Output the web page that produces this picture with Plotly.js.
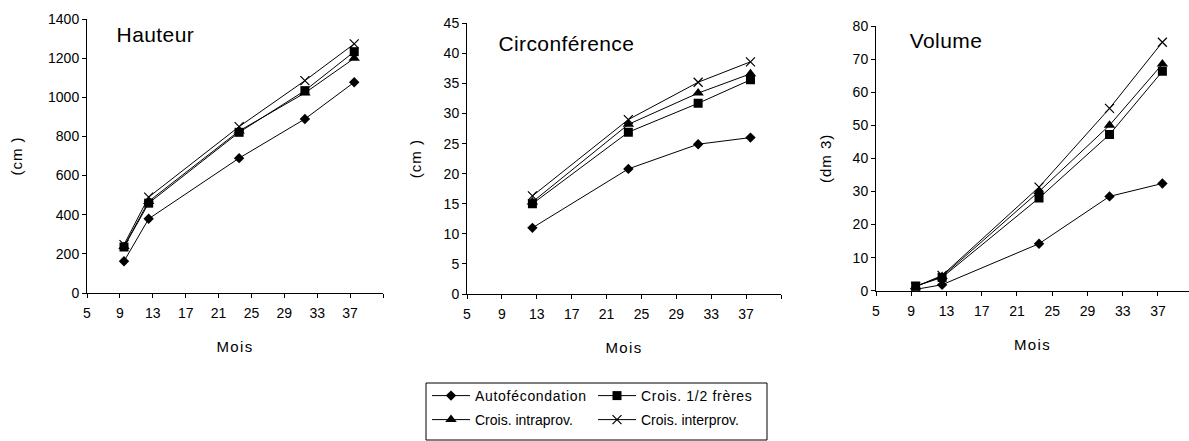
<!DOCTYPE html>
<html>
<head>
<meta charset="utf-8">
<script src="https://cdn.plot.ly/plotly-3.0.1.min.js"></script>
<style>
html, body { margin: 0; padding: 0; background: #fff; }
#chart { width: 1189px; height: 441px; }
#chart .legendtext { letter-spacing: 0.7px !important; }
#chart .xtitle, #chart .x2title, #chart .x3title { letter-spacing: 1.3px !important; }
#chart .ytitle, #chart .y2title, #chart .y3title { letter-spacing: 1px !important; }
#chart .annotation-text { letter-spacing: 0.4px !important; }
</style>
</head>
<body>
<div id="chart"></div>
<script>
// ---- data ----
const seriesNames = ['Autofécondation', 'Crois. 1/2 frères', 'Crois. intraprov.', 'Crois. interprov.'];
const months = [9.5, 12.5, 23.5, 31.5, 37.5];
const monthsCirc = [12.5, 23.5, 31.5, 37.5];

const hauteurAuto  = [162, 379, 689, 889, 1077];
const hauteurDemi  = [235, 459, 821, 1034, 1233];
const hauteurIntra = [238, 468, 828, 1022, 1199];
const hauteurInter = [247, 490, 850, 1085, 1273];

const circAuto  = [11.0, 20.8, 24.9, 26.0];
const circDemi  = [15.0, 26.9, 31.7, 35.6];
const circIntra = [15.3, 28.2, 33.4, 36.6];
const circInter = [16.3, 29.0, 35.2, 38.6];

const volAuto  = [0.4, 1.8, 14.2, 28.5, 32.4];
const volDemi  = [1.4, 4.0, 28.0, 47.2, 66.3];
const volIntra = [1.3, 4.3, 30.0, 50.0, 68.5];
const volInter = [1.2, 4.6, 31.3, 55.1, 75.1];

const xTickVals = [5, 9, 13, 17, 21, 25, 29, 33, 37, 41];
const xTickText = ['5', '9', '13', '17', '21', '25', '29', '33', '37', ''];

const panelTitles = ['Hauteur', 'Circonférence', 'Volume'];
const yTitles = ['(cm )', '(cm )', '(dm 3)'];
const xTitle = 'Mois';

// ---- styles ----
const W = 1189, H = 441;
const FONT = 'Liberation Sans, Arial, sans-serif';
const markerStyles = [
  {symbol: 'diamond', size: 8, color: '#000'},
  {symbol: 'square', size: 9, color: '#000'},
  {symbol: 'triangle-up', size: 10, color: '#000'},
  {symbol: 'x-thin-open', size: 9, color: '#000', line: {width: 1.2, color: '#000'}}
];
const legendOf = ['legend', 'legend', 'legend2', 'legend2'];

const panels = [
  {x: months, ys: [hauteurAuto, hauteurDemi, hauteurIntra, hauteurInter], xa: 'x', ya: 'y'},
  {x: monthsCirc, ys: [circAuto, circDemi, circIntra, circInter], xa: 'x2', ya: 'y2'},
  {x: months, ys: [volAuto, volDemi, volIntra, volInter], xa: 'x3', ya: 'y3'}
];

const traces = [];
panels.forEach((p, pi) => {
  p.ys.forEach((y, si) => {
    traces.push({
      type: 'scatter', mode: 'lines+markers',
      x: p.x, y: y, xaxis: p.xa, yaxis: p.ya,
      name: seriesNames[si],
      legendgroup: 's' + si,
      legend: legendOf[si],
      showlegend: pi === 0,
      line: {color: '#000', width: 1},
      marker: markerStyles[si],
      hoverinfo: 'x+y+name'
    });
  });
});

function px2fx(px) { return px / W; }
function px2fy(py) { return (H - py) / H; }

function xaxis(domPx, range, anchor) {
  return {
    domain: [px2fx(domPx[0]), px2fx(domPx[1])],
    range: range, tickvals: xTickVals, ticktext: xTickText, anchor: anchor,
    showline: true, linecolor: '#000', linewidth: 1,
    ticks: 'outside', ticklen: 4, tickcolor: '#000', ticklabelstandoff: 3,
    showgrid: false, zeroline: false,
    tickfont: {family: FONT, size: 14, color: '#000'},
    title: {text: xTitle, font: {family: FONT, size: 15, color: '#000'}, standoff: 21}
  };
}
function yaxis(domPx, range, dtick, title, anchor, standoff) {
  return {
    domain: [px2fy(domPx[1]), px2fy(domPx[0])],
    range: range, dtick: dtick, tick0: 0, anchor: anchor,
    showline: true, linecolor: '#000', linewidth: 1,
    ticks: 'outside', ticklen: 4, tickcolor: '#000',
    showgrid: false, zeroline: false,
    tickfont: {family: FONT, size: 14, color: '#000'},
    title: {text: title, font: {family: FONT, size: 15, color: '#000'}, standoff: standoff}
  };
}

const legendCommon = {
  orientation: 'h', x: px2fx(427), xanchor: 'left', yanchor: 'middle',
  bgcolor: 'rgba(0,0,0,0)', borderwidth: 0, itemwidth: 38, entrywidth: 113,
  font: {family: FONT, size: 14, color: '#000'}, itemclick: false, itemdoubleclick: false
};

const layout = {
  width: W, height: H,
  margin: {l: 0, r: 0, t: 0, b: 0},
  paper_bgcolor: '#fff', plot_bgcolor: 'rgba(0,0,0,0)',
  font: {family: FONT, color: '#000'},
  xaxis: xaxis([87, 383], [5, 41], 'y'),
  yaxis: yaxis([19, 293], [0, 1400], 200, yTitles[0], 'x', 21),
  xaxis2: xaxis([467, 781], [5, 41], 'y2'),
  yaxis2: yaxis([23.3, 294], [0, 45], 5, yTitles[1], 'x2', 18),
  xaxis3: xaxis([876, 1189], [5, 40.52], 'y3'),
  yaxis3: yaxis([26, 290.7], [0, 80], 10, yTitles[2], 'x3', 17),
  annotations: [
    {text: panelTitles[0], x: px2fx(116), y: px2fy(34), xref: 'paper', yref: 'paper', xanchor: 'left', yanchor: 'middle', showarrow: false, font: {family: FONT, size: 21, color: '#000'}},
    {text: panelTitles[1], x: px2fx(499), y: px2fy(43), xref: 'paper', yref: 'paper', xanchor: 'left', yanchor: 'middle', showarrow: false, font: {family: FONT, size: 21, color: '#000'}},
    {text: panelTitles[2], x: px2fx(909), y: px2fy(40), xref: 'paper', yref: 'paper', xanchor: 'left', yanchor: 'middle', showarrow: false, font: {family: FONT, size: 21, color: '#000'}}
  ],
  shapes: [
    {type: 'rect', xref: 'paper', yref: 'paper', x0: px2fx(426), x1: px2fx(767), y0: px2fy(440), y1: px2fy(383), line: {color: '#000', width: 1}, fillcolor: 'rgba(0,0,0,0)'}
  ],
  legend: Object.assign({}, legendCommon, {y: px2fy(396)}),
  legend2: Object.assign({}, legendCommon, {y: px2fy(420)}),
  showlegend: true
};

Plotly.newPlot('chart', traces, layout, {displayModeBar: false});
</script>
</body>
</html>
